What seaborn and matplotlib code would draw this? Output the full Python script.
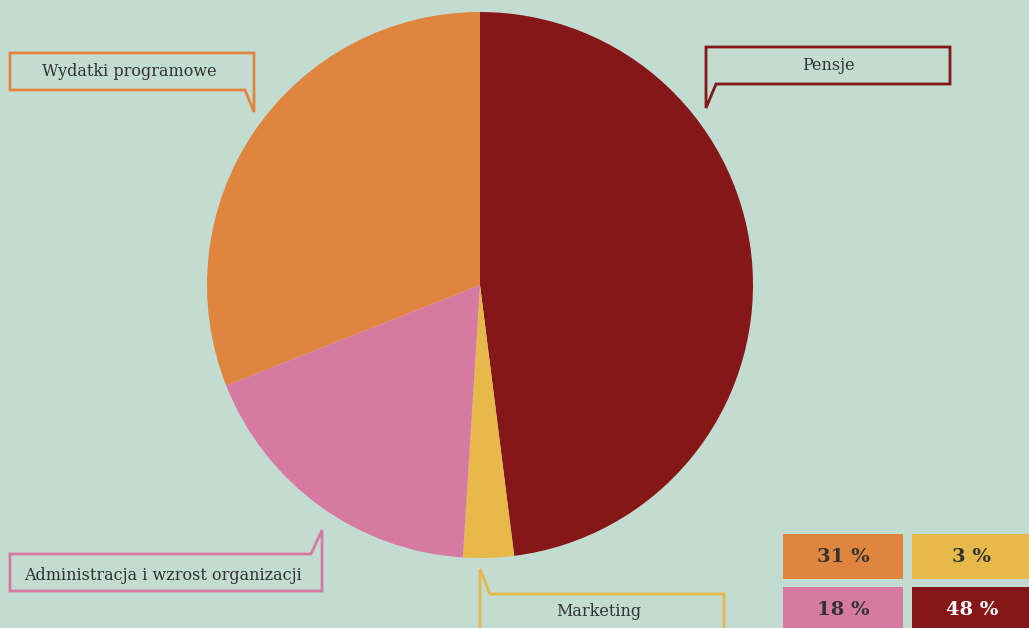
import matplotlib
matplotlib.use("Agg")
import matplotlib.pyplot as plt
import seaborn as sns
from matplotlib.patches import Polygon, Rectangle

# ============================================================
# Data
# ============================================================

categories = ["Pensje", "Marketing", "Administracja i wzrost organizacji", "Wydatki programowe"]
shares = [48, 3, 18, 31]
colors = ["#861719", "#e6b94a", "#d77aa2", "#e08540"]

# percentage tiles (order as shown, row by row)
tile_order = [3, 1, 2, 0]

BG = "#c3dcd1"
TXT = "#333333"

sns.set_theme(style="white", rc={"figure.facecolor": BG, "axes.facecolor": BG})
plt.rcParams["font.family"] = ["DejaVu Serif", "Liberation Serif"]

W, H = 1029, 628
fig = plt.figure(figsize=(W / 100, H / 100), dpi=100)
ax = fig.add_axes([0, 0, 1, 1])

# pixel helper (y from top)
def P(x, y):
    return (x, H - y)

# ============================================================
# Pie
# ============================================================

ax.pie(shares, colors=colors, startangle=90, counterclock=False,
       center=P(480, 285), radius=273, frame=True,
       wedgeprops=dict(linewidth=0))

# ============================================================
# Callouts
# ============================================================

callouts = {
    "Wydatki programowe": [(10, 53), (254, 53), (254, 112), (245, 90), (10, 90)],
    "Pensje": [(706, 47), (950, 47), (950, 84), (716, 84), (706, 108)],
    "Administracja i wzrost organizacji": [(10, 554), (311, 554), (322, 530), (322, 591), (10, 591)],
    "Marketing": [(480, 569), (490, 594), (724, 594), (724, 640), (480, 640)],
}
text_pos = {
    "Wydatki programowe": (129, 72),
    "Pensje": (828, 66),
    "Administracja i wzrost organizacji": (163, 575),
    "Marketing": (599, 611),
}

for name, pts in callouts.items():
    col = colors[categories.index(name)]
    ax.add_patch(Polygon([P(*p) for p in pts], closed=True, fill=False,
                         edgecolor=col, linewidth=2, zorder=3))
    ax.text(*P(*text_pos[name]), name, ha="center", va="center",
            fontsize=11.5, color=TXT, zorder=4)

# ============================================================
# Percentage tiles
# ============================================================

tiles = [(783, 534), (912, 534), (783, 587), (912, 587)]
for (x, y), idx in zip(tiles, tile_order):
    ax.add_patch(Rectangle(P(x, y + 45), 120, 45, facecolor=colors[idx],
                           edgecolor="none", zorder=3))
    tc = "white" if categories[idx] == "Pensje" else TXT
    ax.text(*P(x + 60, y + 23), f"{shares[idx]} %", ha="center", va="center",
            fontsize=14, fontweight="bold", color=tc, zorder=4)

ax.set_xlim(0, W)
ax.set_ylim(0, H)
ax.set_aspect("auto")
ax.axis("off")

fig.savefig("out.png", dpi=100, facecolor=BG)
